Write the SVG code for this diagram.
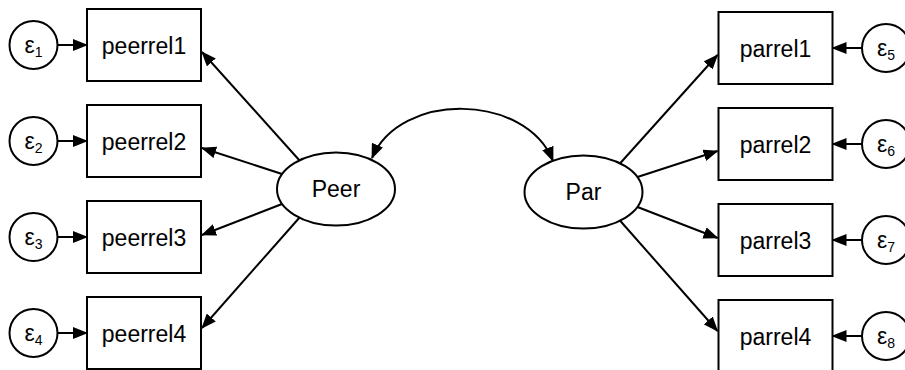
<svg xmlns="http://www.w3.org/2000/svg" width="905" height="370" viewBox="0 0 905 370">
<style>
.box{fill:#fff;stroke:#000;stroke-width:2}
.lat{fill:#fff;stroke:#000;stroke-width:2}
.err{fill:#fff;stroke:#000;stroke-width:2}
.lbl{font-family:"Liberation Sans",Arial,sans-serif;font-size:23px;fill:#000;text-anchor:middle}
.eps{font-family:"Liberation Sans",Arial,sans-serif;font-size:23px;fill:#000;text-anchor:middle}
.sub{font-size:14px}
.con{fill:none;stroke:#000;stroke-width:2;marker-end:url(#ah)}
</style>
<defs>
<marker id="ah" viewBox="0 0 15 12" refX="14" refY="6" markerWidth="15" markerHeight="12" markerUnits="userSpaceOnUse" orient="auto-start-reverse">
<path d="M0,0 L15,6 L0,12 z" fill="#000"/>
</marker>
</defs>
<rect width="905" height="370" fill="#fff"/>
<g id="connectors">
<path class="con" d="M57.5,45 L87,45"/>
<path class="con" d="M57.5,141 L87,141"/>
<path class="con" d="M57.5,237 L87,237"/>
<path class="con" d="M57.5,333 L87,333"/>
<path class="con" d="M862,48 L832.5,48"/>
<path class="con" d="M862,144 L832.5,144"/>
<path class="con" d="M862,240 L832.5,240"/>
<path class="con" d="M862,336 L832.5,336"/>
<path class="con" d="M300,161 L202,52"/>
<path class="con" d="M282,174 L202,148"/>
<path class="con" d="M282,204 L202,235"/>
<path class="con" d="M300,217 L202,328"/>
<path class="con" d="M619.5,164 L717.5,55"/>
<path class="con" d="M637.5,177 L717.5,151"/>
<path class="con" d="M637.5,207 L717.5,238"/>
<path class="con" d="M619.5,220 L717.5,331"/>
<path class="con" style="marker-start:url(#ah)" d="M372,158 C400,91 526,93 553,161"/>
</g>
<g id="Peer"><ellipse class="lat" cx="336" cy="189" rx="59" ry="36.5"/><text class="lbl" x="336" y="197">Peer</text></g>
<g id="Par"><ellipse class="lat" cx="583.5" cy="192" rx="59" ry="36.5"/><text class="lbl" x="583.5" y="200">Par</text></g>
<g id="peerrel1"><rect class="box" x="87" y="9" width="114" height="72"/><text class="lbl" x="144" y="54">peerrel1</text></g>
<g id="peerrel2"><rect class="box" x="87" y="105" width="114" height="72"/><text class="lbl" x="144" y="150">peerrel2</text></g>
<g id="peerrel3"><rect class="box" x="87" y="201" width="114" height="72"/><text class="lbl" x="144" y="246">peerrel3</text></g>
<g id="peerrel4"><rect class="box" x="87" y="297" width="114" height="72"/><text class="lbl" x="144" y="342">peerrel4</text></g>
<g id="parrel1"><rect class="box" x="718.5" y="12" width="114" height="72"/><text class="lbl" x="775.5" y="57">parrel1</text></g>
<g id="parrel2"><rect class="box" x="718.5" y="108" width="114" height="72"/><text class="lbl" x="775.5" y="153">parrel2</text></g>
<g id="parrel3"><rect class="box" x="718.5" y="204" width="114" height="72"/><text class="lbl" x="775.5" y="249">parrel3</text></g>
<g id="parrel4"><rect class="box" x="718.5" y="300" width="114" height="72"/><text class="lbl" x="775.5" y="345">parrel4</text></g>
<g id="e1"><circle class="err" cx="33.5" cy="45" r="24"/><text class="eps" x="33.5" y="53">ε<tspan class="sub" dy="4">1</tspan></text></g>
<g id="e2"><circle class="err" cx="33.5" cy="141" r="24"/><text class="eps" x="33.5" y="149">ε<tspan class="sub" dy="4">2</tspan></text></g>
<g id="e3"><circle class="err" cx="33.5" cy="237" r="24"/><text class="eps" x="33.5" y="245">ε<tspan class="sub" dy="4">3</tspan></text></g>
<g id="e4"><circle class="err" cx="33.5" cy="333" r="24"/><text class="eps" x="33.5" y="341">ε<tspan class="sub" dy="4">4</tspan></text></g>
<g id="e5"><circle class="err" cx="886" cy="48" r="24"/><text class="eps" x="886" y="56">ε<tspan class="sub" dy="4">5</tspan></text></g>
<g id="e6"><circle class="err" cx="886" cy="144" r="24"/><text class="eps" x="886" y="152">ε<tspan class="sub" dy="4">6</tspan></text></g>
<g id="e7"><circle class="err" cx="886" cy="240" r="24"/><text class="eps" x="886" y="248">ε<tspan class="sub" dy="4">7</tspan></text></g>
<g id="e8"><circle class="err" cx="886" cy="336" r="24"/><text class="eps" x="886" y="344">ε<tspan class="sub" dy="4">8</tspan></text></g>
</svg>
